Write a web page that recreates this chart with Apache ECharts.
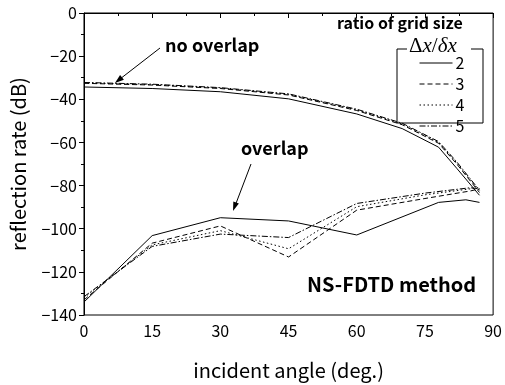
<!DOCTYPE html>
<html>
<head>
<meta charset="utf-8">
<script src="https://cdn.jsdelivr.net/npm/echarts@6/dist/echarts.min.js"></script>
<style>
  html, body { margin: 0; padding: 0; background: #fff; }
  #chart { width: 505px; height: 385px; }
</style>
</head>
<body>
<div id="chart"></div>
<script>
// incident angles (deg.)
var angUp = [0, 15, 30, 45, 60, 70, 78, 82, 87];
var angLow2 = [0, 15, 30, 45, 60, 78, 84, 87];
var angLow = [0, 15, 30, 45, 60, 75, 85, 87];

// no overlap (upper curves), dB
var up2 = [-34.3, -35, -36.5, -39.8, -46.8, -53.6, -62.2, -72, -84.5];
var up3 = [-32.6, -33.4, -35, -38, -45.2, -51.8, -60.4, -70, -83.2];
var up4 = [-32.4, -33.2, -34.8, -37.7, -44.9, -51.4, -60, -69.5, -82.6];
var up5 = [-32.2, -33, -34.6, -37.5, -44.6, -51.1, -59.6, -69, -82.2];

// overlap (lower curves), dB
var low2 = [-134, -103.2, -94.9, -96.4, -102.9, -87.8, -86.6, -87.8];
var low3 = [-133, -106.7, -98.7, -113.1, -91.4, -86, -82.5, -81.5];
var low4 = [-132, -107.5, -100.9, -109.3, -89.8, -84.3, -81.5, -81];
var low5 = [-131.5, -108.2, -102.5, -104.1, -88.3, -83.5, -81, -81.5];

var ratios = ['2', '3', '4', '5'];
var dashes = ['solid', [5, 3], [1.5, 2.5], [6, 2, 1.5, 2]];

function pairs(xs, ys) {
  return xs.map(function (x, i) { return [x, ys[i]]; });
}

var upData = [pairs(angUp, up2), pairs(angUp, up3), pairs(angUp, up4), pairs(angUp, up5)];
var lowData = [pairs(angLow2, low2), pairs(angLow, low3), pairs(angLow, low4), pairs(angLow, low5)];

var font = '"Noto Sans CJK JP", "Noto Sans", sans-serif';

var series = [];
ratios.forEach(function (r, i) {
  [upData[i], lowData[i]].forEach(function (d) {
    series.push({
      name: r,
      type: 'line',
      data: d,
      symbol: 'none',
      animation: false,
      itemStyle: { color: '#000' },
      lineStyle: { color: '#000', width: 1, type: dashes[i] }
    });
  });
});

var chart = echarts.init(document.getElementById('chart'));

chart.setOption({
  backgroundColor: '#fff',
  textStyle: { fontFamily: font, color: '#000' },
  grid: {
    left: 83, right: 10, top: 13, bottom: 68,
    show: true, borderColor: '#000', borderWidth: 1
  },
  legend: {
    data: ratios,
    orient: 'vertical',
    left: 419, top: 55,
    itemWidth: 33, itemHeight: 12, itemGap: 5,
    padding: 0,
    itemStyle: { opacity: 0 },
    lineStyle: { width: 1 },
    textStyle: { fontSize: 16, color: '#000', fontFamily: font, padding: [0, 0, 0, -2] }
  },
  xAxis: {
    type: 'value',
    min: 0, max: 90, interval: 15,
    name: 'incident angle (deg.)',
    nameLocation: 'middle',
    nameGap: 45,
    nameTextStyle: { fontSize: 20, color: '#000' },
    axisLine: { lineStyle: { color: '#000', width: 1 } },
    axisTick: { inside: false, length: 5, lineStyle: { color: '#000' } },
    minorTick: { show: true, splitNumber: 2, length: 3, lineStyle: { color: '#000' } },
    splitLine: { show: false },
    axisLabel: { fontSize: 16, color: '#000', margin: 8 }
  },
  yAxis: {
    type: 'value',
    min: -140, max: 0, interval: 20,
    name: 'reflection rate (dB)',
    nameLocation: 'middle',
    nameGap: 56,
    nameTextStyle: { fontSize: 20, color: '#000' },
    axisLine: { show: true, lineStyle: { color: '#000', width: 1 } },
    axisTick: { inside: false, length: 5, lineStyle: { color: '#000' } },
    minorTick: { show: true, splitNumber: 2, length: 3, lineStyle: { color: '#000' } },
    splitLine: { show: false },
    axisLabel: {
      fontSize: 16, color: '#000', margin: 7,
      formatter: function (v) { return String(v).replace('-', '\u2212'); }
    }
  },
  series: series,
  graphic: [
    { type: 'text', left: 165, top: 36,
      style: { text: 'no overlap', font: 'bold 18px ' + font, fill: '#000' } },
    { type: 'line', shape: { x1: 160, y1: 48, x2: 120, y2: 79 }, style: { stroke: '#000', lineWidth: 1 } },
    { type: 'polygon', shape: { points: [[115, 83], [123.9, 79.7], [120.1, 75]] }, style: { fill: '#000' } },

    { type: 'text', left: 241, top: 139,
      style: { text: 'overlap', font: 'bold 18px ' + font, fill: '#000' } },
    { type: 'line', shape: { x1: 251, y1: 164, x2: 235, y2: 206 }, style: { stroke: '#000', lineWidth: 1 } },
    { type: 'polygon', shape: { points: [[233, 211], [238.9, 203.6], [233.3, 201.5]] }, style: { fill: '#000' } },

    { type: 'text', left: 307, top: 274,
      style: { text: 'NS-FDTD method', font: 'bold 20px ' + font, fill: '#000' } },

    { type: 'text', left: 337, top: 15,
      style: { text: 'ratio of grid size', font: 'bold 16px ' + font, fill: '#000' } },
    { type: 'text', left: 409, top: 36,
      style: {
        text: '{u|\u0394}{i|x}{u|/}{i|\u03B4x}',
        rich: {
          u: { font: '21px "Liberation Serif", serif', fill: '#000' },
          i: { font: 'italic 21px "Liberation Serif", serif', fill: '#000' }
        }
      } },
    { type: 'polyline', shape: { points: [[407, 49], [397, 49], [397, 123], [483, 123], [483, 49], [471, 49]] },
      style: { stroke: '#000', lineWidth: 1, fill: null } }
  ]
});
</script>
</body>
</html>
